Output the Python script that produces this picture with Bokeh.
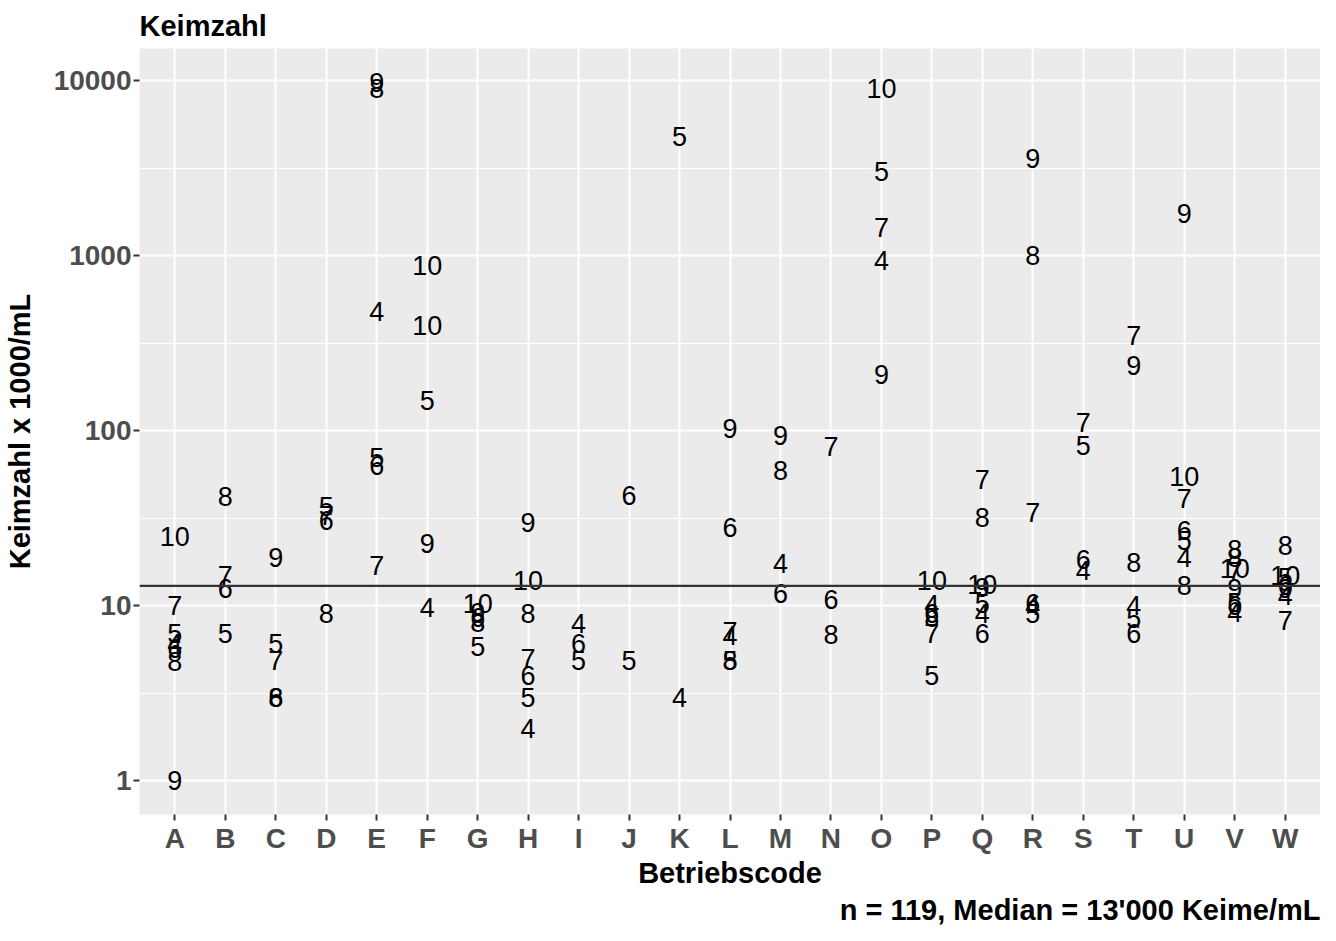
from bokeh.plotting import figure
from bokeh.models import (FactorRange, Range1d, FixedTicker, PrintfTickFormatter,
                          ColumnDataSource, Span, Title)
from bokeh.core.properties import value
from bokeh.embed import file_html
from bokeh.resources import INLINE

# ---------------- data ----------------
categories = list("ABCDEFGHIJKLMNOPQRSTUVW")

# Betriebscode of each sample
codes = (["A"] * 7 + ["B"] * 4 + ["C"] * 5 + ["D"] * 4 + ["E"] * 6 + ["F"] * 5 +
         ["G"] * 5 + ["H"] * 7 + ["I"] * 3 + ["J"] * 2 + ["K"] * 2 + ["L"] * 6 +
         ["M"] * 4 + ["N"] * 3 + ["O"] * 5 + ["P"] * 6 + ["Q"] * 7 + ["R"] * 6 +
         ["S"] * 4 + ["T"] * 6 + ["U"] * 7 + ["V"] * 8 + ["W"] * 7)

# label printed at each sample (month)
labels = [10, 7, 5, 4, 6, 8, 9,          # A
          8, 7, 6, 5,                    # B
          9, 5, 7, 6, 8,                 # C
          5, 7, 6, 8,                    # D
          9, 8, 4, 5, 6, 7,              # E
          10, 10, 5, 9, 4,               # F
          10, 9, 6, 8, 5,                # G
          9, 10, 8, 7, 6, 5, 4,          # H
          4, 6, 5,                       # I
          6, 5,                          # J
          5, 4,                          # K
          9, 6, 7, 4, 5, 8,              # L
          9, 8, 4, 6,                    # M
          7, 6, 8,                       # N
          10, 5, 7, 4, 9,                # O
          10, 4, 6, 8, 7, 5,             # P
          7, 8, 10, 9, 5, 4, 6,          # Q
          9, 8, 7, 6, 4, 5,              # R
          7, 5, 6, 4,                    # S
          7, 9, 8, 4, 5, 6,              # T
          9, 10, 7, 6, 5, 4, 8,          # U
          8, 8, 10, 7, 9, 5, 6, 4,       # V
          8, 10, 5, 6, 9, 4, 7]          # W

# Keimzahl x 1000/mL
counts = [25, 10, 7, 6.1, 5.7, 4.8, 1,                 # A
          42, 15, 12.6, 7,                             # B
          19, 6.1, 4.9, 3, 3,                          # C
          37, 33, 30.7, 9,                             # D
          9800, 9000, 480, 70, 63, 17,                 # E
          880, 400, 150, 22.6, 9.8,                    # F
          10.3, 9.2, 8.6, 8, 5.9,                      # G
          30, 14, 9, 5, 4, 3, 2,                       # H
          7.9, 6.1, 4.9,                               # I
          43, 4.9,                                     # J
          4800, 3,                                     # K
          103, 28, 7.1, 6.8, 4.9, 4.9,                 # L
          94, 59, 17.4, 11.8,                          # M
          81, 10.9, 6.9,                               # N
          9000, 3050, 1450, 940, 210,                  # O
          14, 10.2, 9, 8.6, 7, 4,                      # P
          53, 32, 13.2, 12.8, 10.3, 9.1, 7,            # Q
          3600, 1000, 34, 10.3, 10, 9,                 # R
          112, 83, 18.3, 16,                           # S
          350, 237, 17.6, 10, 8.5, 7,                  # T
          1750, 55, 41, 27, 23.5, 19, 13,              # U
          21, 19, 16.3, 15.8, 12.6, 10.4, 10, 9.2,     # V
          22, 15, 14.5, 13, 12.5, 11.5, 8.2]           # W

median_value = 13  # 13'000 Keime/mL

y_ticks = [1, 10, 100, 1000, 10000]
y_minor = [3.1623, 31.623, 316.23, 3162.3]

FONT = "Liberation Sans"

src = ColumnDataSource(dict(code=codes, count=counts, label=[str(l) for l in labels]))

p = figure(x_range=FactorRange(factors=categories, range_padding=0.2,
                               range_padding_units="absolute"),
           y_axis_type="log", y_range=Range1d(0.643, 15300),
           width=1320, height=925, output_backend="svg", toolbar_location=None,
           min_border_left=0, min_border_right=0, min_border_top=0, min_border_bottom=0)

p.background_fill_color = "#EBEBEB"
p.border_fill_color = "white"
p.outline_line_color = None

# title
p.title.text = "Keimzahl"
p.title.text_font = FONT
p.title.text_font_size = "29px"
p.title.text_font_style = "bold"
p.title.text_color = "black"
p.title.align = "left"
p.title.standoff = 14

# grids
p.xgrid.grid_line_color = "white"
p.xgrid.grid_line_width = 2
p.ygrid.ticker = FixedTicker(ticks=y_ticks, minor_ticks=y_minor)
p.ygrid.grid_line_color = "white"
p.ygrid.grid_line_width = 2
p.ygrid.minor_grid_line_color = "white"
p.ygrid.minor_grid_line_width = 1

# axes
for ax in (p.xaxis[0], p.yaxis[0]):
    ax.axis_line_color = None
    ax.major_tick_line_color = "#333333"
    ax.major_tick_line_width = 2
    ax.major_tick_in = 0
    ax.major_tick_out = 6
    ax.minor_tick_line_color = None
    ax.major_label_text_font = FONT
    ax.major_label_text_font_size = "28px"
    ax.major_label_text_font_style = "bold"
    ax.major_label_text_color = "#4D4D4D"
    ax.major_label_standoff = 2
    ax.axis_label_text_font = FONT
    ax.axis_label_text_font_size = "29px"
    ax.axis_label_text_font_style = "bold"
    ax.axis_label_text_color = "black"

p.yaxis.ticker = FixedTicker(ticks=y_ticks, minor_ticks=[])
p.yaxis.formatter = PrintfTickFormatter(format="%d")
p.yaxis.axis_label = "Keimzahl x 1000/mL"
p.yaxis.axis_label_standoff = 15
p.xaxis.axis_label = "Betriebscode"
p.xaxis.axis_label_standoff = 0

# text labels
p.text(x="code", y="count", text="label", source=src,
       text_font=value(FONT), text_font_size="27px",
       text_align="center", text_baseline="middle", text_color="black")

# median line
p.add_layout(Span(location=median_value, dimension="width",
                  line_color="#333333", line_width=2.2))

caption = Title(text="n = 119, Median = 13'000 Keime/mL", align="right",
                text_font=FONT, text_font_size="29px", text_font_style="bold",
                text_color="black", standoff=0)
p.add_layout(caption, "below")

open("out.html", "w").write(file_html(p, INLINE))
